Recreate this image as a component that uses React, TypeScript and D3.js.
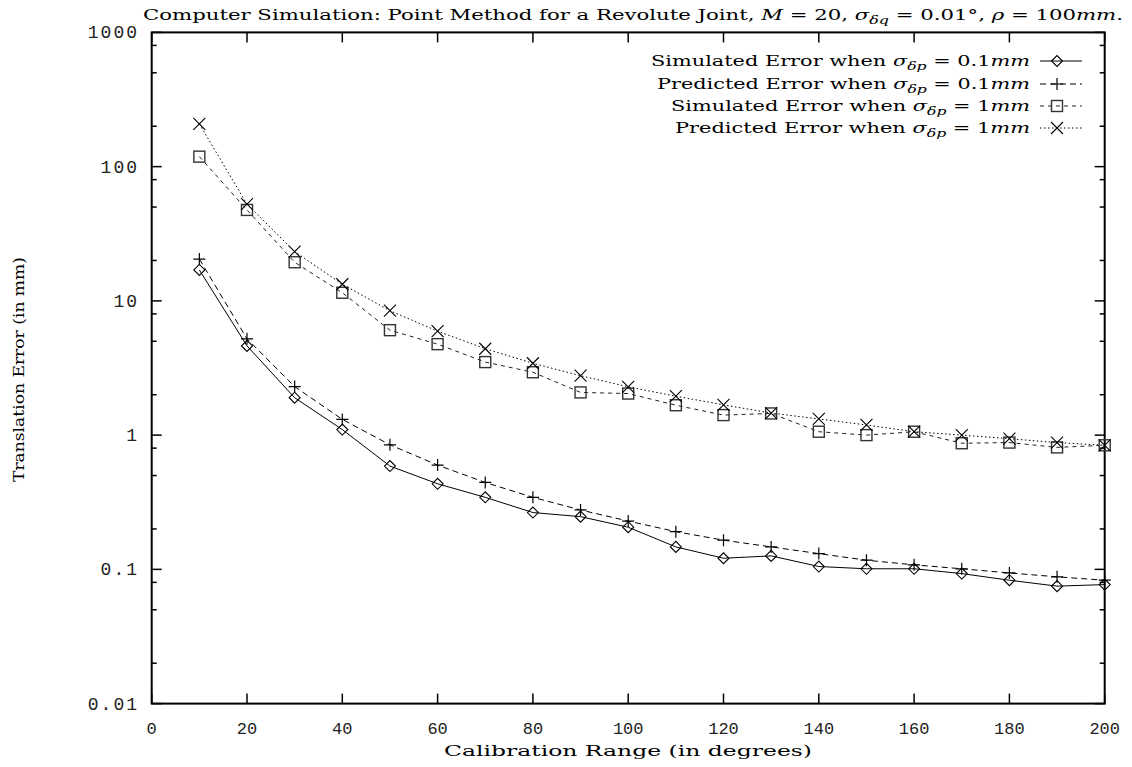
import React from 'react';
import * as d3 from 'd3';

// calibration range (degrees)
const ranges = [10, 20, 30, 40, 50, 60, 70, 80, 90, 100, 110, 120, 130, 140, 150, 160, 170, 180, 190, 200];

// translation error (mm)
const simSmall = [17.0, 4.62, 1.9, 1.1, 0.588, 0.434, 0.344, 0.265, 0.247, 0.206, 0.147, 0.121, 0.126, 0.105, 0.101, 0.101, 0.093, 0.083, 0.075, 0.077];
const predSmall = [20.5, 5.22, 2.3, 1.31, 0.847, 0.598, 0.444, 0.344, 0.277, 0.229, 0.191, 0.165, 0.147, 0.131, 0.117, 0.108, 0.101, 0.094, 0.088, 0.083];
const simLarge = [118.7, 47.6, 19.4, 11.5, 6.05, 4.76, 3.5, 2.94, 2.08, 2.04, 1.67, 1.41, 1.45, 1.06, 1.0, 1.06, 0.87, 0.88, 0.81, 0.84];
const predLarge = [208, 52.5, 23.3, 13.3, 8.45, 5.95, 4.4, 3.43, 2.77, 2.29, 1.95, 1.68, 1.46, 1.32, 1.19, 1.06, 1.0, 0.94, 0.88, 0.84];

const xTicks = [0, 20, 40, 60, 80, 100, 120, 140, 160, 180, 200];
const yTicks = [0.01, 0.1, 1, 10, 100, 1000];
const yTickLabels = ['0.01', '0.1', '1', '10', '100', '1000'];
const yMinorSteps = [2, 5, 8];

const serif = '"DejaVu Serif", "Liberation Serif", serif';
const mono = '"Liberation Mono", "DejaVu Sans Mono", monospace';

type Marker = 'diamond' | 'plus' | 'square' | 'cross';

const series: { values: number[]; marker: Marker; dash: string | undefined; stroke: string }[] = [
  { values: simSmall, marker: 'diamond', dash: undefined, stroke: '#000' },
  { values: predSmall, marker: 'plus', dash: '6,4', stroke: '#000' },
  { values: simLarge, marker: 'square', dash: '4,4', stroke: '#222' },
  { values: predLarge, marker: 'cross', dash: '1.5,2.5', stroke: '#000' },
];

const MarkerShape = ({ kind, cx, cy }: { kind: Marker; cx: number; cy: number }) => {
  if (kind === 'diamond') {
    const r = 5.5;
    return <path d={`M${cx - r},${cy}L${cx},${cy - r}L${cx + r},${cy}L${cx},${cy + r}Z`} fill="none" stroke="#000" strokeWidth={1.1} />;
  }
  if (kind === 'plus') {
    const r = 6;
    return <path d={`M${cx - r},${cy}H${cx + r}M${cx},${cy - r}V${cy + r}`} stroke="#000" strokeWidth={1.2} />;
  }
  if (kind === 'square') {
    const r = 5.5;
    return <rect x={cx - r} y={cy - r} width={2 * r} height={2 * r} fill="none" stroke="#333" strokeWidth={1.4} />;
  }
  const r = 6;
  return <path d={`M${cx - r},${cy - r}L${cx + r},${cy + r}M${cx - r},${cy + r}L${cx + r},${cy - r}`} stroke="#000" strokeWidth={1.1} />;
};

const Sigma = ({ sub }: { sub: string }) => (
  <>
    <tspan fontStyle="italic">σ</tspan>
    <tspan fontStyle="italic" fontSize="0.75em" dy={4}>{sub}</tspan>
    <tspan dy={-4}> </tspan>
  </>
);

const App = () => {
  const width = 1132;
  const height = 767;
  const left = 151.7;
  const right = 1104.7;
  const top = 32.4;
  const bottom = 703.6;

  const x = d3.scaleLinear([0, 200], [left, right]);
  const y = d3.scaleLog([0.01, 1000], [bottom, top]);

  const minor: number[] = [];
  yTicks.slice(0, -1).forEach(d => yMinorSteps.forEach(s => minor.push(d * s)));

  const line = d3.line<number>()
    .x((_, i) => x(ranges[i]))
    .y(d => y(d));

  const legendRows = [
    { pre: 'Simulated Error when ', val: '0.1', len: 379 },
    { pre: 'Predicted Error when ', val: '0.1', len: 373 },
    { pre: 'Simulated Error when ', val: '1', len: 359 },
    { pre: 'Predicted Error when ', val: '1', len: 355 },
  ];
  const legendY = [61, 84, 106, 128];

  return (
    <svg width={width} height={height} viewBox={`0 0 ${width} ${height}`}
      style={{ position: 'absolute', left: 0, top: 0, background: '#fff' }}>
      {/* title */}
      <text x={143} y={20} fontFamily={serif} fontSize={15} textLength={980} lengthAdjust="spacingAndGlyphs">
        Computer Simulation: Point Method for a Revolute Joint, <tspan fontStyle="italic">M</tspan> = 20, <Sigma sub="δq" />= 0.01°, <tspan fontStyle="italic">ρ</tspan> = 100<tspan fontStyle="italic">mm</tspan>.
      </text>

      {/* ticks */}
      <g stroke="#000" strokeWidth={1.5}>
        {xTicks.map(t => (
          <g key={`xt${t}`}>
            <line x1={x(t)} x2={x(t)} y1={bottom} y2={bottom - 10} />
            <line x1={x(t)} x2={x(t)} y1={top} y2={top + 10} />
          </g>
        ))}
        {yTicks.map(t => (
          <g key={`yt${t}`}>
            <line x1={left} x2={left + 10} y1={y(t)} y2={y(t)} />
            <line x1={right} x2={right - 10} y1={y(t)} y2={y(t)} />
          </g>
        ))}
        {minor.map(t => (
          <g key={`ym${t}`}>
            <line x1={left} x2={left + 5} y1={y(t)} y2={y(t)} />
            <line x1={right} x2={right - 5} y1={y(t)} y2={y(t)} />
          </g>
        ))}
      </g>
      <rect x={left} y={top} width={right - left} height={bottom - top} fill="none" stroke="#000" strokeWidth={2} />

      {/* tick labels */}
      <g fontFamily={mono} fontSize={17} fill="#222">
        {xTicks.map(t => (
          <text key={`xl${t}`} x={x(t)} y={734} textAnchor="middle">{t}</text>
        ))}
        {yTicks.map((t, i) => (
          <text key={`yl${t}`} x={139} y={y(t) + 6} textAnchor="end" fontSize={18} letterSpacing={2}>{yTickLabels[i]}</text>
        ))}
      </g>

      {/* axis titles */}
      <text x={444} y={756} fontFamily={serif} fontSize={15.5} textLength={368} lengthAdjust="spacingAndGlyphs">
        Calibration Range (in degrees)
      </text>
      <text transform="translate(24,482) rotate(-90)" fontFamily={serif} fontSize={15.5} textLength={225} lengthAdjust="spacingAndGlyphs">
        Translation Error (in mm)
      </text>

      {/* series */}
      {series.map((s, si) => (
        <g key={`s${si}`}>
          <path d={line(s.values) ?? ''} fill="none" stroke={s.stroke} strokeWidth={1} strokeDasharray={s.dash} />
          {s.values.map((v, i) => (
            <MarkerShape key={i} kind={s.marker} cx={x(ranges[i])} cy={y(v)} />
          ))}
        </g>
      ))}

      {/* legend */}
      {legendRows.map((r, i) => (
        <g key={`lg${i}`}>
          <text x={1030 - r.len} y={legendY[i] + 5} fontFamily={serif} fontSize={15.5} textLength={r.len} lengthAdjust="spacingAndGlyphs">
            {r.pre}<Sigma sub="δp" />= {r.val}<tspan fontStyle="italic">mm</tspan>
          </text>
          <line x1={1040} x2={1082} y1={legendY[i]} y2={legendY[i]} stroke={series[i].stroke} strokeWidth={1} strokeDasharray={series[i].dash} />
          <MarkerShape kind={series[i].marker} cx={1057} cy={legendY[i]} />
        </g>
      ))}
    </svg>
  );
};

export default App;
